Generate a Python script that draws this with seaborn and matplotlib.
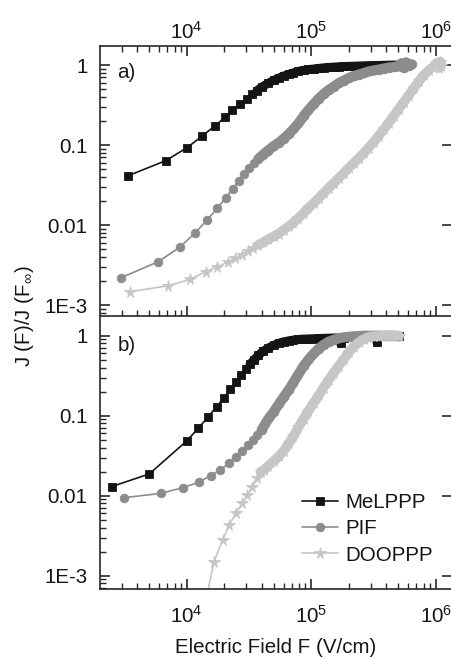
import matplotlib
matplotlib.use("Agg")
import matplotlib.pyplot as plt
import seaborn as sns
import numpy as np
from matplotlib.ticker import FixedLocator, FixedFormatter, LogLocator, LogFormatterSciNotation, NullFormatter

# ---------------- data ----------------
series_names = ["MeLPPP", "PIF", "DOOPPP"]

# panel a)
Fa_me = [3400, 6780, 10120, 13360, 16900, 20330, 23280, 26840, 30400, 33750, 36560, 40100,
         45000, 50000, 55000, 60000, 66000, 72000, 79000, 87000, 95000, 105000, 115000, 126000,
         138000, 152000, 167000, 183000, 200000, 220000, 242000, 265000, 290000, 320000, 350000,
         385000, 420000, 460000, 505000]
Ja_me = [0.0414, 0.0637, 0.093, 0.130, 0.174, 0.222, 0.274, 0.329, 0.38, 0.43, 0.475, 0.53,
         0.59, 0.645, 0.69, 0.73, 0.765, 0.80, 0.835, 0.86, 0.88, 0.895, 0.91, 0.925,
         0.935, 0.945, 0.955, 0.96, 0.965, 0.97, 0.975, 0.98, 0.985, 0.99, 0.99,
         0.995, 1.0, 1.0, 1.0]

Fa_pif = [2965, 5915, 8840, 11730, 14640, 17600, 20560, 23400, 26160, 29030, 31840, 34740, 37590, 40750,
          45000, 50000, 55000, 60000, 66000, 72000, 79000, 87000, 95000, 105000, 115000, 126000,
          138000, 152000, 167000, 183000, 200000, 220000, 242000, 265000, 290000, 320000, 350000,
          385000, 420000, 460000, 505000, 530000, 555000, 580000, 610000, 640000]
Ja_pif = [0.00219, 0.00348, 0.00531, 0.0080, 0.0116, 0.0162, 0.0218, 0.0282, 0.0355, 0.0434, 0.0511, 0.059, 0.0668, 0.075,
          0.085, 0.097, 0.107, 0.12, 0.137, 0.158, 0.186, 0.231, 0.274, 0.326, 0.381, 0.434,
          0.487, 0.538, 0.596, 0.64, 0.688, 0.729, 0.76, 0.794, 0.83, 0.854, 0.878,
          0.904, 0.93, 0.944, 0.958, 1.05, 0.92, 1.08, 0.97, 1.02]

Fa_doo = [3510, 7110, 10630, 14210, 17610, 21330, 24420, 27650, 31260, 34290, 37600, 41240,
          45000, 50000, 55000, 60000, 66000, 72000, 79000, 87000, 95000, 105000, 115000, 126000,
          138000, 152000, 167000, 183000, 200000, 220000, 242000, 265000, 290000, 320000, 350000,
          385000, 420000, 460000, 505000, 555000, 610000, 670000, 735000, 805000, 885000, 970000,
          1020000, 1060000, 1090000, 1110000]
Ja_doo = [0.00147, 0.00174, 0.00209, 0.00261, 0.00302, 0.00342, 0.00384, 0.00422, 0.00478, 0.00512, 0.00562, 0.00608,
          0.0066, 0.0072, 0.0078, 0.0087, 0.0096, 0.0107, 0.0122, 0.0141, 0.0163, 0.0188, 0.0218, 0.025,
          0.029, 0.0335, 0.0387, 0.0447, 0.0516, 0.0596, 0.0688, 0.0794, 0.093, 0.11, 0.131,
          0.158, 0.191, 0.231, 0.282, 0.345, 0.422, 0.516, 0.63, 0.75, 0.866, 0.97,
          1.06, 0.92, 1.1, 0.98]

# panel b)
Fb_me = [2500, 5010, 10000, 12400, 14900, 17400, 19950, 22300, 24760, 27170, 29800, 32200, 34730,
         37600, 41200, 45000, 50000, 55000, 60000, 66000, 72000, 79000, 87000, 95000, 105000, 115000,
         126000, 138000, 152000, 167000, 172000, 183000, 200000, 220000, 242000, 265000, 290000,
         320000, 338000, 350000, 385000, 420000, 460000, 505000]
Jb_me = [0.013, 0.0187, 0.0483, 0.0696, 0.097, 0.13, 0.168, 0.214, 0.266, 0.323, 0.38, 0.439, 0.497,
         0.57, 0.64, 0.70, 0.76, 0.81, 0.84, 0.865, 0.885, 0.90, 0.91, 0.915, 0.92, 0.925,
         0.93, 0.935, 0.94, 0.94, 0.80, 0.945, 0.95, 0.955, 0.96, 0.965, 0.97,
         0.975, 0.83, 0.98, 0.985, 0.99, 1.0, 1.0]

Fb_pif = [3130, 6220, 9290, 12480, 15590, 18620, 21750, 24760, 27810, 30900, 33880, 36900, 40000,
          45000, 50000, 55000, 60000, 66000, 72000, 79000, 87000, 95000, 105000, 115000, 126000,
          138000, 152000, 167000, 183000, 200000, 220000, 242000, 265000, 290000, 320000, 350000,
          385000, 420000, 460000, 505000]
Jb_pif = [0.00944, 0.0107, 0.0126, 0.0147, 0.0178, 0.021, 0.0254, 0.0307, 0.0365, 0.043, 0.0497, 0.0574, 0.0663,
          0.09, 0.112, 0.14, 0.17, 0.21, 0.26, 0.33, 0.42, 0.50, 0.60, 0.69, 0.77,
          0.84, 0.89, 0.93, 0.955, 0.97, 0.98, 0.99, 1.0, 1.0, 1.0, 1.0,
          1.0, 1.0, 1.0, 0.98]

Fb_doo = [13700, 16560, 19450, 21880, 24900, 27980, 30700, 33670, 36480, 39300,
          42000, 45000, 50000, 55000, 60000, 66000, 72000, 79000, 87000, 95000, 105000, 115000,
          126000, 138000, 152000, 167000, 183000, 200000, 220000, 242000, 265000, 290000, 320000,
          350000, 385000, 420000, 460000, 505000]
Jb_doo = [0.00036, 0.0015, 0.00279, 0.0043, 0.00603, 0.00803, 0.0102, 0.013, 0.0165, 0.020,
          0.021, 0.0235, 0.027, 0.031, 0.036, 0.045, 0.055, 0.072, 0.092, 0.115, 0.145, 0.18,
          0.225, 0.28, 0.345, 0.42, 0.51, 0.62, 0.73, 0.83, 0.91, 0.96, 0.98,
          0.99, 1.0, 1.0, 1.0, 1.0]

ytick_values = [1e-3, 1e-2, 1e-1, 1]
ytick_labels = ["1E-3", "0.01", "0.1", "1"]
xtick_values = [1e4, 1e5, 1e6]

# ---------------- style ----------------
sns.set_style("ticks")
plt.rcParams["font.family"] = ["Liberation Sans", "DejaVu Sans"]
plt.rcParams["mathtext.fontset"] = "custom"
plt.rcParams["mathtext.rm"] = "Liberation Sans"
plt.rcParams["mathtext.it"] = "Liberation Sans:italic"
plt.rcParams["mathtext.bf"] = "Liberation Sans:bold"
plt.rcParams["axes.linewidth"] = 1.2

FS = 14.8
TXT = "#151515"
colors = {"MeLPPP": "#141414", "PIF": "#8c8c8c", "DOOPPP": "#c6c6c6"}
markers = {"MeLPPP": "s", "PIF": "o", "DOOPPP": "*"}
msizes = {"MeLPPP": 5.4, "PIF": 6.2, "DOOPPP": 8.5}
band_lw = {"MeLPPP": 6.3, "PIF": 7.3, "DOOPPP": 7.0}
# field above which the measured points overlap into a solid band (style)
band_start = [{"MeLPPP": 36000, "PIF": 37000, "DOOPPP": 36000},
              {"MeLPPP": 32000, "PIF": 38000, "DOOPPP": 39000}]

fig = plt.figure(figsize=(4.52, 6.59), dpi=100)
W, H = 452.0, 659.0
left = 100 / W
width = (452 - 100) / W
ax1 = fig.add_axes([left, 1 - 316 / H, width, (316 - 46) / H])
ax2 = fig.add_axes([left, 1 - 589 / H, width, (589 - 317) / H])

panels = [
    (ax1, [(Fa_me, Ja_me), (Fa_pif, Ja_pif), (Fa_doo, Ja_doo)], (7.29e-4, 1.728), "a)", 0.902),
    (ax2, [(Fb_me, Jb_me), (Fb_pif, Jb_pif), (Fb_doo, Jb_doo)], (6.82e-4, 1.713), "b)", 0.897),
]

for pi, (ax, data, ylim, tag, ty) in enumerate(panels):
    for name, (F, J) in zip(series_names, data):
        c = colors[name]
        Fa = np.asarray(F, float)
        Ja = np.asarray(J, float)
        m = Fa >= band_start[pi][name]
        sns.lineplot(x=Fa[m], y=Ja[m], ax=ax, estimator=None, sort=False,
                     color=c, linewidth=band_lw[name], solid_capstyle="round",
                     solid_joinstyle="round", legend=False)
        sns.lineplot(x=Fa, y=Ja, ax=ax, estimator=None, sort=False,
                     color=c, linewidth=1.2, marker=markers[name],
                     markersize=msizes[name], markeredgecolor=c, markerfacecolor=c,
                     markeredgewidth=0.6, label=name if ax is ax2 else None,
                     legend=False)
    ax.set_xscale("log")
    ax.set_yscale("log")
    ax.set_xlim(2014, 1.352e6)
    ax.set_ylim(*ylim)
    ax.yaxis.set_major_locator(FixedLocator(ytick_values))
    ax.yaxis.set_major_formatter(FixedFormatter(ytick_labels))
    ax.yaxis.set_minor_locator(LogLocator(base=10, subs=np.arange(2, 10)))
    ax.yaxis.set_minor_formatter(NullFormatter())
    ax.xaxis.set_major_locator(FixedLocator(xtick_values))
    ax.xaxis.set_major_formatter(LogFormatterSciNotation())
    ax.xaxis.set_minor_locator(LogLocator(base=10, subs=np.arange(2, 10)))
    ax.xaxis.set_minor_formatter(NullFormatter())
    ax.spines["right"].set_visible(False)
    ax.tick_params(axis="both", which="major", direction="in", length=7, width=1.1,
                   labelsize=FS, colors=TXT)
    ax.tick_params(axis="y", which="major", pad=9)
    ax.tick_params(axis="both", which="minor", direction="in", length=4, width=1.0)
    ax.tick_params(axis="y", which="major", left=True, right=True)
    ax.tick_params(axis="y", which="minor", left=True, right=False)
    ax.set_xlabel("")
    ax.set_ylabel("")
    ax.text(0.05, ty, tag, transform=ax.transAxes, fontsize=FS, va="center",
            ha="left", color=TXT)

ax1.tick_params(axis="x", which="both", top=True, bottom=True, labeltop=True, labelbottom=False)
ax1.tick_params(axis="x", which="major", pad=2.5)
ax2.tick_params(axis="x", which="both", top=False, bottom=True, labeltop=False, labelbottom=True)
ax2.tick_params(axis="x", which="major", pad=11.5)
ax2.spines["top"].set_visible(False)

ax2.set_xlabel("Electric Field F (V/cm)", fontsize=FS, labelpad=8, color=TXT)
fig.text(25 / W, 1 - 316 / H, "J (F)/J (F$_{\\infty}$)", rotation=90, fontsize=FS,
         ha="center", va="center", color=TXT)

leg = ax2.legend(loc="upper left", bbox_to_anchor=(0.574, 0.354), frameon=False,
                 fontsize=FS, handlelength=1.75, handletextpad=0.35, labelspacing=0.36,
                 borderpad=0, borderaxespad=0)
for t in leg.get_texts():
    t.set_color(TXT)

fig.savefig("out.png", dpi=100)
